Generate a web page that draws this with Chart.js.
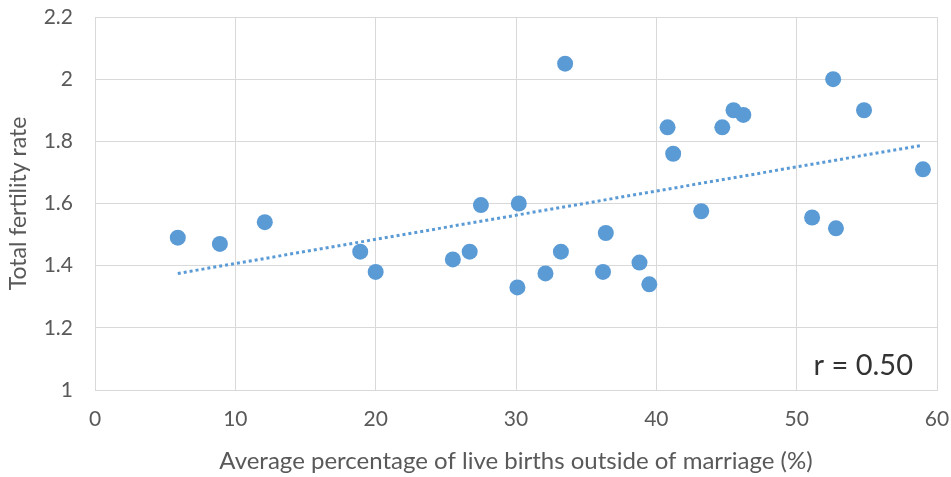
<!DOCTYPE html>
<html>
<head>
<meta charset="utf-8">
<script src="https://cdn.jsdelivr.net/npm/chart.js@4/dist/chart.umd.min.js"></script>
<style>
  body { margin: 0; background: #fff; }
</style>
</head>
<body>
<canvas id="chart" width="951" height="477"></canvas>
<script>
const ctx = document.getElementById("chart").getContext("2d");

// share of live births outside marriage (%), per country
const birthsOutside = [
  5.9, 8.9, 12.1, 18.9, 20.0, 25.5, 26.7, 27.5, 30.2, 30.1,
  32.1, 33.2, 33.5, 36.4, 36.2, 38.8, 39.5, 40.8, 41.2, 43.2,
  44.7, 45.5, 46.2, 51.1, 52.6, 52.8, 54.8, 59.0
];
// total fertility rate, same order
const fertility = [
  1.49, 1.47, 1.54, 1.445, 1.38, 1.42, 1.445, 1.595, 1.60, 1.33,
  1.375, 1.445, 2.05, 1.505, 1.38, 1.41, 1.34, 1.845, 1.76, 1.575,
  1.845, 1.90, 1.885, 1.555, 2.00, 1.52, 1.90, 1.71
];
// linear trendline ends
const trendX = [5.9, 58.9];
const trendY = [1.375, 1.787];

const xTicks = [0, 10, 20, 30, 40, 50, 60];
const yTicks = [1, 1.2, 1.4, 1.6, 1.8, 2, 2.2];
const rLabel = "r = 0.50";

const blue = "#5B9BD5";
const gray = "#595959";
const font = "Lato, 'Open Sans', sans-serif";

const points = birthsOutside.map((x, i) => ({ x: x, y: fertility[i] }));
const trend = trendX.map((x, i) => ({ x: x, y: trendY[i] }));

const rText = {
  id: "rText",
  afterDraw(chart) {
    const c = chart.ctx;
    const a = chart.chartArea;
    c.save();
    c.font = "29px " + font;
    c.fillStyle = "#333333";
    c.textAlign = "right";
    c.textBaseline = "middle";
    c.fillText(rLabel, a.right - 24, a.bottom - 24);
    c.restore();
  },
};

new Chart(ctx, {
  type: "scatter",
  data: {
    datasets: [
      {
        data: points,
        backgroundColor: blue,
        borderWidth: 0,
        pointRadius: 8,
        pointHoverRadius: 8,
        order: 1,
      },
      {
        type: "line",
        data: trend,
        borderColor: blue,
        borderWidth: 3,
        borderDash: [3, 3],
        pointRadius: 0,
        fill: false,
        order: 2,
      },
    ],
  },
  options: {
    responsive: false,
    animation: false,
    layout: { padding: { top: 17, right: 14, left: 0, bottom: 0 } },
    plugins: { legend: { display: false }, tooltip: { enabled: false } },
    scales: {
      x: {
        type: "linear",
        min: 0,
        max: 60,
        afterBuildTicks: (s) => { s.ticks = xTicks.map((v) => ({ value: v })); },
        afterFit: (s) => {
          s.height = 87;
          s.paddingLeft = 0;
          s.paddingRight = 0;
        },
        grid: { color: "#d9d9d9", drawTicks: false },
        border: { color: "#d9d9d9" },
        ticks: { color: gray, padding: 17, font: { family: font, size: 21 } },
        title: {
          display: true,
          text: "Average percentage of live births outside of marriage (%)",
          color: gray,
          font: { family: font, size: 24 },
          padding: { bottom: 1 },
        },
      },
      y: {
        type: "linear",
        min: 1,
        max: 2.2,
        afterBuildTicks: (s) => { s.ticks = yTicks.map((v) => ({ value: v })); },
        afterFit: (s) => {
          s.width = 95;
          s.paddingTop = 0;
          s.paddingBottom = 0;
        },
        grid: { color: "#d9d9d9", drawTicks: false },
        border: { color: "#d9d9d9" },
        ticks: {
          color: gray,
          padding: 22,
          font: { family: font, size: 21 },
          callback: (v) => String(v),
        },
        title: {
          display: true,
          text: "Total fertility rate",
          color: gray,
          font: { family: font, size: 23 },
          padding: { top: 5 },
        },
      },
    },
  },
  plugins: [rText],
});
</script>
</body>
</html>
